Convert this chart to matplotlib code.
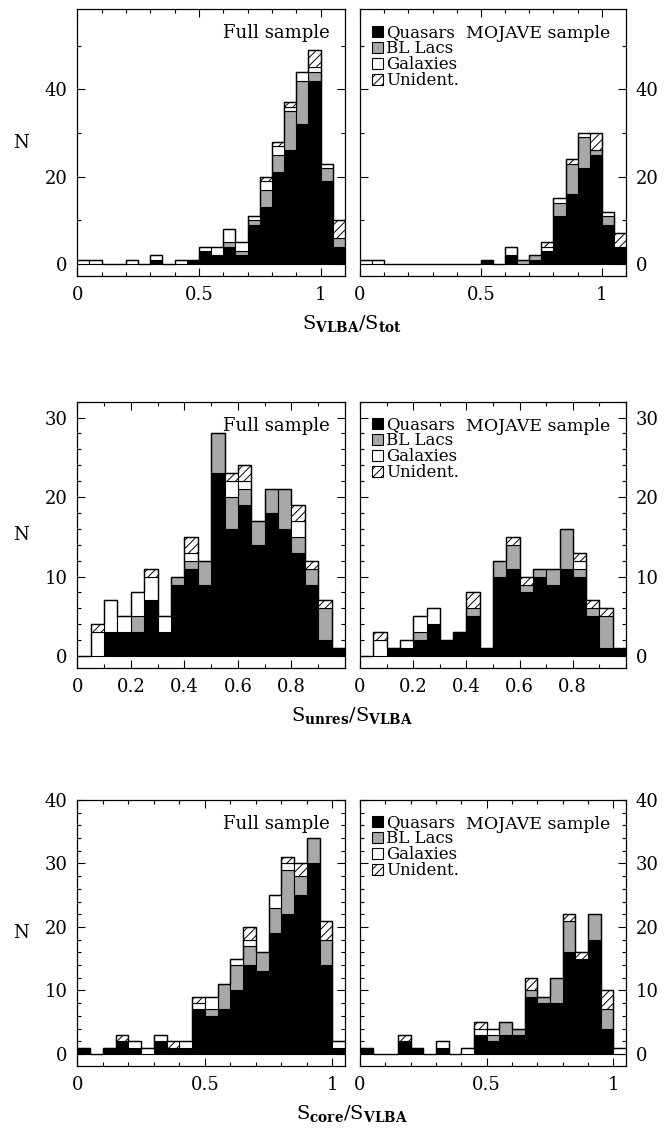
import numpy as np
import matplotlib
matplotlib.use('Agg')
import matplotlib.pyplot as plt
from matplotlib.patches import Rectangle
from matplotlib.ticker import MultipleLocator, FixedLocator, FuncFormatter

plt.rcParams['font.family'] = 'DejaVu Serif'
plt.rcParams['mathtext.fontset'] = 'dejavuserif'
plt.rcParams['hatch.linewidth'] = 0.7
plt.rcParams['hatch.color'] = 'black'

BIN = 0.05

# ---- Row 1: S_VLBA / S_tot  (bins of 0.05 from 0 to 1.1) ----
full1_qso = [0, 0, 0, 0, 0, 0, 1, 0, 0, 1, 3, 2, 4, 2, 9, 13, 21, 26, 32, 42, 19, 4]
full1_bll = [0, 0, 0, 0, 0, 0, 0, 0, 0, 0, 0, 0, 1, 1, 1, 4, 4, 9, 10, 2, 3, 2]
full1_gal = [1, 1, 0, 0, 1, 0, 1, 0, 1, 0, 1, 2, 3, 2, 1, 2, 2, 1, 2, 1, 1, 0]
full1_unid = [0, 0, 0, 0, 0, 0, 0, 0, 0, 0, 0, 0, 0, 0, 0, 1, 1, 1, 0, 4, 0, 4]

moj1_qso = [0, 0, 0, 0, 0, 0, 0, 0, 0, 0, 1, 0, 2, 0, 1, 3, 11, 16, 22, 25, 9, 4]
moj1_bll = [0, 0, 0, 0, 0, 0, 0, 0, 0, 0, 0, 0, 0, 1, 1, 0, 3, 7, 7, 1, 2, 0]
moj1_gal = [1, 1, 0, 0, 0, 0, 0, 0, 0, 0, 0, 0, 2, 0, 0, 1, 1, 0, 1, 0, 1, 0]
moj1_unid = [0, 0, 0, 0, 0, 0, 0, 0, 0, 0, 0, 0, 0, 0, 0, 1, 0, 1, 0, 4, 0, 3]

# ---- Row 2: S_unres / S_VLBA  (bins of 0.05 from 0 to 1.0) ----
full2_qso = [0, 0, 3, 3, 3, 7, 3, 9, 11, 9, 23, 16, 19, 14, 18, 16, 13, 9, 2, 1]
full2_bll = [0, 0, 0, 0, 2, 0, 0, 1, 1, 3, 5, 4, 2, 3, 3, 5, 2, 2, 4, 0]
full2_gal = [0, 3, 4, 2, 3, 3, 2, 0, 1, 0, 0, 2, 1, 0, 0, 0, 2, 0, 0, 0]
full2_unid = [0, 1, 0, 0, 0, 1, 0, 0, 2, 0, 0, 1, 2, 0, 0, 0, 2, 1, 1, 0]

moj2_qso = [0, 0, 1, 1, 2, 4, 2, 3, 5, 1, 10, 11, 8, 10, 9, 11, 10, 5, 1, 1]
moj2_bll = [0, 0, 0, 0, 1, 0, 0, 0, 1, 0, 2, 3, 1, 1, 2, 5, 1, 1, 4, 0]
moj2_gal = [0, 2, 0, 1, 2, 2, 0, 0, 0, 0, 0, 0, 0, 0, 0, 0, 1, 0, 0, 0]
moj2_unid = [0, 1, 0, 0, 0, 0, 0, 0, 2, 0, 0, 1, 1, 0, 0, 0, 1, 1, 1, 0]

# ---- Row 3: S_core / S_VLBA  (bins of 0.05 from 0 to 1.05) ----
full3_qso = [1, 0, 1, 2, 1, 0, 2, 1, 1, 7, 6, 7, 10, 14, 13, 19, 22, 25, 30, 14, 1]
full3_bll = [0, 0, 0, 0, 0, 0, 0, 0, 0, 0, 1, 4, 4, 3, 3, 4, 7, 3, 4, 4, 0]
full3_gal = [0, 0, 0, 0, 1, 1, 1, 0, 1, 1, 2, 0, 1, 1, 0, 2, 1, 0, 0, 0, 1]
full3_unid = [0, 0, 0, 1, 0, 0, 0, 1, 0, 1, 0, 0, 0, 2, 0, 0, 1, 2, 0, 3, 0]

moj3_qso = [1, 0, 0, 2, 1, 0, 1, 0, 0, 3, 2, 3, 3, 9, 8, 8, 16, 15, 18, 4, 0]
moj3_bll = [0, 0, 0, 0, 0, 0, 0, 0, 0, 0, 1, 2, 1, 1, 1, 4, 5, 0, 4, 3, 0]
moj3_gal = [0, 0, 0, 0, 0, 0, 1, 0, 1, 1, 1, 0, 0, 0, 0, 0, 0, 0, 0, 0, 1]
moj3_unid = [0, 0, 0, 1, 0, 0, 0, 0, 0, 1, 0, 0, 0, 2, 0, 0, 1, 1, 0, 3, 0]

class_names = ['Quasars', 'BL Lacs', 'Galaxies', 'Unident.']
panel_titles = ['Full sample', 'MOJAVE sample']
xlabels = [r'$\mathrm{S}_{\mathbf{VLBA}}/\mathrm{S}_{\mathbf{tot}}$',
           r'$\mathrm{S}_{\mathbf{unres}}/\mathrm{S}_{\mathbf{VLBA}}$',
           r'$\mathrm{S}_{\mathbf{core}}/\mathrm{S}_{\mathbf{VLBA}}$']

GRAY = '#a8a8a8'
styles = [dict(color='black', hatch=None),
          dict(color=GRAY, hatch=None),
          dict(color='white', hatch=None),
          dict(color='white', hatch='////')]

fig = plt.figure(figsize=(6.7, 11.34), dpi=100)
W, H = 670.0, 1134.0

rows = [
    dict(full=(full1_qso, full1_bll, full1_gal, full1_unid),
         moj=(moj1_qso, moj1_bll, moj1_gal, moj1_unid),
         xlim=(0, 1.1), ylim=(-2.75, 58.3), xmaj=[0, 0.5, 1.0], xmin=0.1,
         ymaj=20, ymin=10, top=9.3, bot=276),
    dict(full=(full2_qso, full2_bll, full2_gal, full2_unid),
         moj=(moj2_qso, moj2_bll, moj2_gal, moj2_unid),
         xlim=(0, 1.0), ylim=(-1.5, 32.0), xmaj=[0, 0.2, 0.4, 0.6, 0.8], xmin=0.1,
         ymaj=10, ymin=2, top=401.7, bot=668),
    dict(full=(full3_qso, full3_bll, full3_gal, full3_unid),
         moj=(moj3_qso, moj3_bll, moj3_gal, moj3_unid),
         xlim=(0, 1.05), ylim=(-1.9, 40.0), xmaj=[0, 0.5, 1.0], xmin=0.1,
         ymaj=10, ymin=2, top=800, bot=1066),
]

cols = [(77.3, 345.0), (360.0, 626.0)]


def fmt(v, pos):
    return '%g' % round(v, 3)


def draw_hist(ax, comps):
    n = len(comps[0])
    edges = np.arange(n + 1) * BIN
    left = edges[:-1]
    bottom = np.zeros(n)
    for vals, st in zip(comps, styles):
        v = np.asarray(vals, dtype=float)
        m = v > 0
        if m.any():
            ax.bar(left[m], v[m], width=BIN, bottom=bottom[m], align='edge',
                   color=st['color'], edgecolor='black', linewidth=0.8,
                   hatch=st['hatch'], zorder=2)
        bottom = bottom + v
    ax.stairs(bottom, edges, color='black', linewidth=1.0, baseline=None, zorder=3)


for r, row in enumerate(rows):
    for c, key in enumerate(['full', 'moj']):
        x0, x1 = cols[c]
        ax = fig.add_axes([x0 / W, 1 - row['bot'] / H, (x1 - x0) / W,
                           (row['bot'] - row['top']) / H])
        draw_hist(ax, row[key])
        ax.set_xlim(*row['xlim'])
        ax.set_ylim(*row['ylim'])
        ax.xaxis.set_major_locator(FixedLocator(row['xmaj']))
        ax.xaxis.set_minor_locator(MultipleLocator(row['xmin']))
        ax.yaxis.set_major_locator(MultipleLocator(row['ymaj']))
        ax.yaxis.set_minor_locator(MultipleLocator(row['ymin']))
        ax.xaxis.set_major_formatter(FuncFormatter(fmt))
        ax.yaxis.set_major_formatter(FuncFormatter(fmt))
        ax.tick_params(which='both', direction='in', top=True, right=True,
                       left=True, bottom=True, width=0.8, labelsize=13, pad=7)
        ax.tick_params(which='major', length=6)
        ax.tick_params(which='minor', length=3)
        if c == 1:
            ax.tick_params(labelleft=False, labelright=True)
        for sp in ax.spines.values():
            sp.set_linewidth(0.9)
        ax.text(0.944 if c == 0 else 0.94, 0.891, panel_titles[c],
                transform=ax.transAxes, ha='right', va='baseline',
                fontsize=13 if c == 0 else 12.5)
        if c == 1:
            sz = 11.0
            axw = x1 - x0
            axh = row['bot'] - row['top']
            for k, (name, st) in enumerate(zip(class_names, styles)):
                base = 27.4 + 16.0 * k
                yb = 1 - base / axh
                ax.add_patch(Rectangle((12.0 / axw, yb), sz / axw, sz / axh,
                                       transform=ax.transAxes,
                                       facecolor=st['color'], edgecolor='black',
                                       linewidth=0.8, hatch=st['hatch'],
                                       zorder=4))
                ax.text(26.0 / axw, yb, name, transform=ax.transAxes,
                        ha='left', va='baseline', fontsize=12, zorder=4)
    yc = (row['top'] + row['bot']) / 2
    fig.text(21 / W, 1 - yc / H, 'N', ha='center', va='center', fontsize=13)
    fig.text(352 / W, 1 - (row['bot'] + 47) / H, xlabels[r],
             ha='center', va='center', fontsize=14)

fig.savefig('out.png', dpi=100)
